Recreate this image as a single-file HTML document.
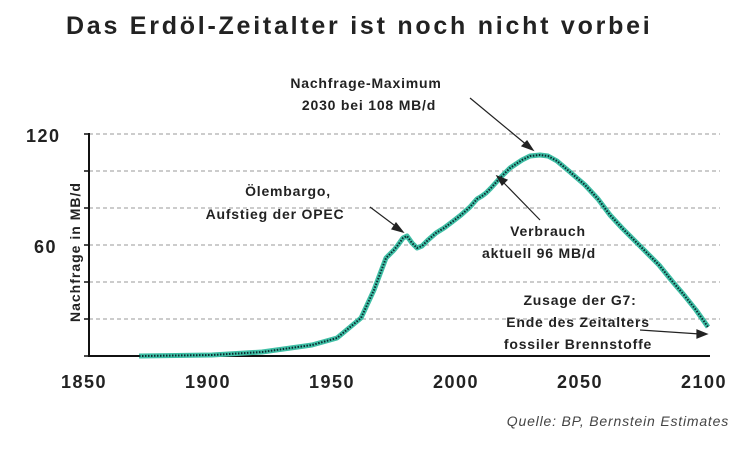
<!DOCTYPE html>
<html><head><meta charset="utf-8"><style>
body{margin:0;background:#fff;width:750px;height:471px;overflow:hidden}
svg text{font-family:"Liberation Sans",sans-serif;fill:#222}
</style></head><body>
<svg width="750" height="471" viewBox="0 0 750 471">
<text x="66" y="34" font-size="25" font-weight="bold" letter-spacing="2.75">Das Erdöl-Zeitalter ist noch nicht vorbei</text>
<g stroke="#999" stroke-dasharray="4,3" stroke-width="1">
<line x1="89" y1="134" x2="720" y2="134"/><line x1="89" y1="171" x2="720" y2="171"/>
<line x1="89" y1="208" x2="720" y2="208"/><line x1="89" y1="245" x2="720" y2="245"/>
<line x1="89" y1="282" x2="720" y2="282"/><line x1="89" y1="319" x2="720" y2="319"/>
</g>
<g stroke="#111" stroke-width="2">
<line x1="89" y1="133" x2="89" y2="357"/><line x1="88" y1="356" x2="710" y2="356"/>
</g>
<g stroke="#111" stroke-width="1.5">
<line x1="84" y1="134" x2="89" y2="134"/><line x1="84" y1="171" x2="89" y2="171"/><line x1="84" y1="208" x2="89" y2="208"/><line x1="84" y1="245" x2="89" y2="245"/><line x1="84" y1="282" x2="89" y2="282"/><line x1="84" y1="319" x2="89" y2="319"/><line x1="84" y1="356" x2="89" y2="356"/>
</g>
<g font-size="18" font-weight="bold" letter-spacing="1.5">
<text x="26" y="142">120</text><text x="34" y="253">60</text>
<text x="61" y="388">1850</text><text x="185" y="388">1900</text><text x="309" y="388">1950</text><text x="433" y="388">2000</text><text x="557" y="388">2050</text><text x="681" y="388">2100</text>
</g>
<text transform="translate(80,322) rotate(-90)" font-size="14" font-weight="bold" letter-spacing="1">Nachfrage in MB/d</text>
<polyline fill="none" stroke="#3fbfa5" stroke-width="5" stroke-linejoin="round" points="139,356 212,355 262,352 312,345 337,338 361,318 374,290 386,258 391,253 394,250 398,245 403,238 407,236 412,243 417,248 422,246 428,240 436,233 444,228 452,222 461,215 470,207 477,199 482,196 486,193 491,188 500,178 510,168 522,160 530,156 540,155 548,156 557,161 570,172 585,185 598,199 610,215 622,228 634,240 646,252 659,265 672,281 684,295 696,310 708,327"/>
<polyline fill="none" stroke="#0a2a30" stroke-width="2" stroke-dasharray="1.5,1.5" points="139,356 212,355 262,352 312,345 337,338 361,318 374,290 386,258 391,253 394,250 398,245 403,238 407,236 412,243 417,248 422,246 428,240 436,233 444,228 452,222 461,215 470,207 477,199 482,196 486,193 491,188 500,178 510,168 522,160 530,156 540,155 548,156 557,161 570,172 585,185 598,199 610,215 622,228 634,240 646,252 659,265 672,281 684,295 696,310 708,327"/>
<g font-size="14" font-weight="bold" letter-spacing="0.8" text-anchor="middle">
<text x="366" y="88">Nachfrage-Maximum</text><text x="369" y="110">2030 bei 108 MB/d</text>
<text x="288" y="196">Ölembargo,</text><text x="275" y="219">Aufstieg der OPEC</text>
<text x="548" y="236">Verbrauch</text><text x="539" y="258">aktuell 96 MB/d</text>
<text x="580" y="305">Zusage der G7:</text><text x="578" y="327">Ende des Zeitalters</text><text x="578" y="349">fossiler Brennstoffe</text>
</g>
<g stroke="#222" stroke-width="1.2" fill="#222">
<line x1="470" y1="98" x2="528" y2="146"/><polygon points="533,150 522,146 527,141"/>
<line x1="370" y1="207" x2="398" y2="228"/><polygon points="403,232 392,229 396,223"/>
<line x1="540" y1="220" x2="502" y2="181"/><polygon points="497,176 507,180 502,185"/>
<line x1="640" y1="330" x2="700" y2="334"/><polygon points="707,334 697,330 697,338"/>
</g>
<text x="729" y="426" font-size="14" font-style="italic" text-anchor="end" letter-spacing="0.8" style="fill:#444">Quelle: BP, Bernstein Estimates</text>
</svg>
</body></html>
